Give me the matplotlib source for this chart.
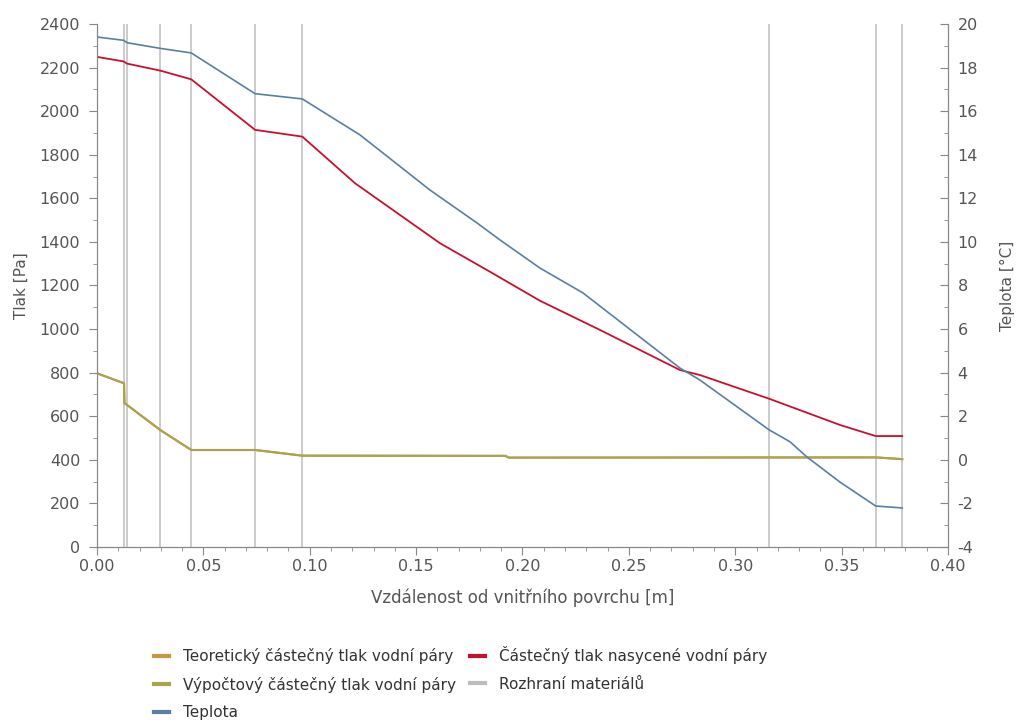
#!/usr/bin/env python3
"""Průběh tlaků a teploty v konstrukci."""

import matplotlib
matplotlib.use('Agg')
import matplotlib.pyplot as plt
from matplotlib.ticker import MultipleLocator, FormatStrFormatter
from matplotlib.lines import Line2D

plt.rcParams['axes.unicode_minus'] = False

# rozhraní materiálů [m]
interfaces = [0.0125, 0.0141, 0.0297, 0.0443, 0.0743, 0.0965, 0.3160, 0.3660, 0.3785]

# výpočtový / teoretický částečný tlak vodní páry [Pa]
vap_x = [0.0, 0.0127, 0.0129, 0.0141, 0.0297, 0.0443, 0.0743, 0.0965,
         0.1920, 0.1935, 0.3660, 0.3785]
vap_p = [797, 751, 660, 652, 537, 445, 445, 419,
         418, 410, 411, 403]
theor_p = list(vap_p)

# částečný tlak nasycené vodní páry [Pa]
sat_x = [0.0, 0.0125, 0.0141, 0.0297, 0.0443, 0.0743, 0.0965, 0.1213,
         0.1612, 0.1847, 0.2082, 0.2364, 0.2740, 0.2834, 0.3160, 0.3492,
         0.3660, 0.3785]
sat_p = [2249, 2228, 2218, 2186, 2146, 1914, 1883, 1669,
         1394, 1263, 1130, 996, 812, 789, 680, 560,
         509, 509]

# teplota [°C]
temp_x = [0.0, 0.0125, 0.0141, 0.0297, 0.0443, 0.0743, 0.0965, 0.1236,
          0.1565, 0.1786, 0.1894, 0.2082, 0.2284, 0.2740, 0.2834, 0.3160,
          0.3257, 0.3337, 0.3492, 0.3660, 0.3785]
temp_t = [19.40, 19.25, 19.14, 18.88, 18.67, 16.80, 16.56, 14.91,
          12.38, 10.87, 10.09, 8.80, 7.66, 4.21, 3.66, 1.37,
          0.83, 0.13, -1.02, -2.12, -2.21]

c_theor = '#c8963e'
c_vap = '#a8a450'
c_sat = '#c8102e'
c_iface = '#bdbdbd'
c_temp = '#5b7fa3'
c_text = '#555555'
c_axis = '#888888'

fig = plt.figure(figsize=(10.19, 7.26), dpi=100)
ax = fig.add_axes([0.0952, 0.2466, 0.8351, 0.7204])
ax2 = ax.twinx()

ax.vlines(interfaces, 0, 2400, color=c_iface, lw=1.1, zorder=1)
ax.plot(vap_x, theor_p, color=c_theor, lw=1.5, zorder=2)
ax.plot(vap_x, vap_p, color=c_vap, lw=1.5, zorder=3)
ax.plot(sat_x, sat_p, color=c_sat, lw=1.3, zorder=3)
ax2.plot(temp_x, temp_t, color=c_temp, lw=1.2)

ax.set_xlim(0, 0.40)
ax.set_ylim(0, 2400)
ax2.set_ylim(-4, 20)

ax.xaxis.set_major_locator(MultipleLocator(0.05))
ax.xaxis.set_minor_locator(MultipleLocator(0.01))
ax.xaxis.set_major_formatter(FormatStrFormatter('%.2f'))
ax.yaxis.set_major_locator(MultipleLocator(200))
ax.yaxis.set_minor_locator(MultipleLocator(100))
ax2.yaxis.set_major_locator(MultipleLocator(2))
ax2.yaxis.set_minor_locator(MultipleLocator(1))

for a in (ax, ax2):
    a.spines['top'].set_visible(False)
    for s in a.spines.values():
        s.set_color(c_axis)
    a.tick_params(which='both', direction='out', color=c_axis,
                  labelcolor=c_text, labelsize=11.5)
    a.tick_params(which='major', length=6)
    a.tick_params(which='minor', length=3)
ax.tick_params(axis='y', which='both', pad=6)
ax.tick_params(axis='x', which='both', pad=3)
# pravá osa má čárky dovnitř
ax2.tick_params(axis='y', which='both', direction='in', pad=7)

ax.set_xlabel('Vzdálenost od vnitřního povrchu [m]', color=c_text, fontsize=12, labelpad=10)
ax.set_ylabel('Tlak [Pa]', color=c_text, fontsize=11, labelpad=8)
ax2.set_ylabel('Teplota [°C]', color=c_text, fontsize=11, labelpad=16)

handles = [
    Line2D([], [], color=c_theor, lw=3),
    Line2D([], [], color=c_vap, lw=3),
    Line2D([], [], color=c_temp, lw=3),
    Line2D([], [], color=c_sat, lw=3),
    Line2D([], [], color=c_iface, lw=3),
]
labels = [
    'Teoretický částečný tlak vodní páry',
    'Výpočtový částečný tlak vodní páry',
    'Teplota',
    'Částečný tlak nasycené vodní páry',
    'Rozhraní materiálů',
]
leg = fig.legend(handles, labels, ncol=2, loc='upper left',
                 bbox_to_anchor=(0.145, 0.118), frameon=False, fontsize=11,
                 handlelength=1.0, handletextpad=0.9, columnspacing=0.9,
                 labelspacing=0.8, borderaxespad=0)
for t in leg.get_texts():
    t.set_color('#333333')

fig.savefig('out.png', dpi=100)
